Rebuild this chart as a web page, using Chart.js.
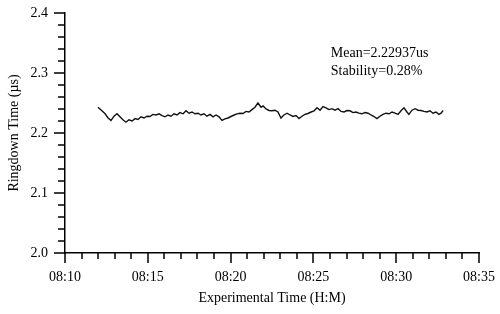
<!DOCTYPE html>
<html>
<head>
<meta charset="utf-8">
<script src="https://cdn.jsdelivr.net/npm/chart.js@4/dist/chart.umd.min.js"></script>
<style>
html,body{margin:0;padding:0;background:#fff;}
#wrap{width:500px;height:314px;position:relative;}
</style>
</head>
<body>
<div id="wrap"><canvas id="c" width="500" height="314"></canvas></div>
<script>
// elapsed minutes after 08:10
const timesMin = [1.99,2.23,2.42,2.60,2.78,2.96,3.14,3.32,3.50,3.68,3.86,4.05,4.23,4.41,4.59,4.77,4.95,5.13,5.31,5.50,5.68,5.86,6.04,6.22,6.40,6.58,6.76,6.94,7.13,7.31,7.49,7.67,7.85,8.03,8.21,8.39,8.57,8.76,8.94,9.12,9.30,9.48,9.66,9.84,10.02,10.21,10.39,10.57,10.75,10.93,11.11,11.29,11.47,11.65,11.84,11.96,12.14,12.32,12.50,12.68,12.86,13.04,13.22,13.41,13.59,13.77,13.95,14.13,14.31,14.49,14.67,14.86,15.04,15.22,15.40,15.58,15.76,15.94,16.12,16.30,16.49,16.67,16.85,17.03,17.21,17.39,17.57,17.75,17.93,18.12,18.30,18.48,18.66,18.84,19.02,19.20,19.38,19.57,19.75,19.93,20.11,20.29,20.47,20.65,20.77,20.95,21.14,21.32,21.50,21.68,21.86,22.04,22.22,22.40,22.58,22.71,22.83];
const ringdown = [2.243,2.237,2.232,2.225,2.221,2.228,2.232,2.227,2.222,2.218,2.222,2.220,2.224,2.2225,2.227,2.225,2.228,2.2275,2.231,2.230,2.232,2.229,2.227,2.230,2.228,2.232,2.230,2.234,2.232,2.237,2.233,2.235,2.232,2.233,2.230,2.232,2.228,2.231,2.227,2.230,2.227,2.221,2.2235,2.225,2.2275,2.230,2.232,2.233,2.2325,2.236,2.235,2.239,2.243,2.250,2.243,2.245,2.240,2.2375,2.237,2.238,2.235,2.225,2.230,2.233,2.230,2.2275,2.229,2.224,2.228,2.231,2.2325,2.235,2.237,2.242,2.238,2.244,2.242,2.239,2.2405,2.238,2.2405,2.236,2.235,2.2375,2.237,2.234,2.235,2.233,2.232,2.234,2.233,2.230,2.2275,2.224,2.228,2.231,2.233,2.232,2.235,2.233,2.231,2.237,2.242,2.235,2.231,2.238,2.2405,2.238,2.2375,2.236,2.235,2.237,2.233,2.235,2.231,2.233,2.2375];
const xTickLabels = ['08:10','08:15','08:20','08:25','08:30','08:35'];
const yTickValues = [2.0,2.1,2.2,2.3,2.4];
const annotationLines = ['Mean=2.22937us','Stability=0.28%'];

const FONT = "'Liberation Serif','Times New Roman',serif";
const points = timesMin.map((t,i)=>({x:t,y:ringdown[i]}));

const tickPlugin = {
  id:'ticks',
  afterDraw(chart){
    const ctx = chart.ctx;
    const xs = chart.scales.x, ys = chart.scales.y;
    const ca = chart.chartArea;
    ctx.save();
    ctx.strokeStyle = '#000';
    ctx.lineWidth = 1.5;
    ctx.beginPath();
    for(let m=0;m<=25;m++){
      const px = Math.round(xs.getPixelForValue(m));
      const len = (m%5===0)?10:6;
      ctx.moveTo(px, ca.bottom); ctx.lineTo(px, ca.bottom+len);
    }
    for(let k=0;k<=20;k++){
      const v = 2.0 + k*0.02;
      const py = Math.round(ys.getPixelForValue(v));
      const len = (k%5===0)?11:7;
      ctx.moveTo(ca.left, py); ctx.lineTo(ca.left-len, py);
    }
    ctx.stroke();
    // annotation
    ctx.fillStyle = '#000';
    ctx.font = '14px ' + FONT;
    ctx.textBaseline = 'middle';
    ctx.textAlign = 'left';
    const ax = xs.getPixelForValue(16.05);
    const ay = ys.getPixelForValue(2.3333);
    annotationLines.forEach((s,i)=>ctx.fillText(s, ax, ay + i*18));
    ctx.restore();
  }
};

new Chart(document.getElementById('c'), {
  type:'line',
  data:{datasets:[{data:points,borderColor:'#111',borderWidth:1.4,pointRadius:0,tension:0,fill:false}]},
  options:{
    responsive:false,animation:false,
    layout:{padding:{top:13,right:21,left:0,bottom:0}},
    plugins:{legend:{display:false},tooltip:{enabled:false}},
    scales:{
      x:{type:'linear',min:0,max:25,
        grid:{display:false,drawTicks:false},
        border:{display:true,color:'#000',width:1.5},
        afterFit(s){s.height=61;s.paddingLeft=0;s.paddingRight=0;},
        ticks:{stepSize:5,padding:16,color:'#000',font:{family:FONT,size:14},maxRotation:0,
          callback:(v)=>xTickLabels[Math.round(v/5)]},
        title:{display:true,text:'Experimental Time (H:M)',color:'#000',font:{family:FONT,size:14},padding:{top:4,bottom:7}}
      },
      y:{type:'linear',min:2.0,max:2.4,
        grid:{display:false,drawTicks:false},
        border:{display:true,color:'#000',width:1.5},
        afterFit(s){s.width=65;s.paddingTop=0;s.paddingBottom=0;},
        afterBuildTicks(s){s.ticks=yTickValues.map(v=>({value:v}));},
        ticks:{padding:17,color:'#000',font:{family:FONT,size:14},callback:(v)=>v.toFixed(1)},
        title:{display:true,text:'Ringdown Time (µs)',color:'#000',font:{family:FONT,size:14},padding:{top:6,bottom:4}}
      }
    }
  },
  plugins:[tickPlugin]
});
</script>
</body>
</html>
